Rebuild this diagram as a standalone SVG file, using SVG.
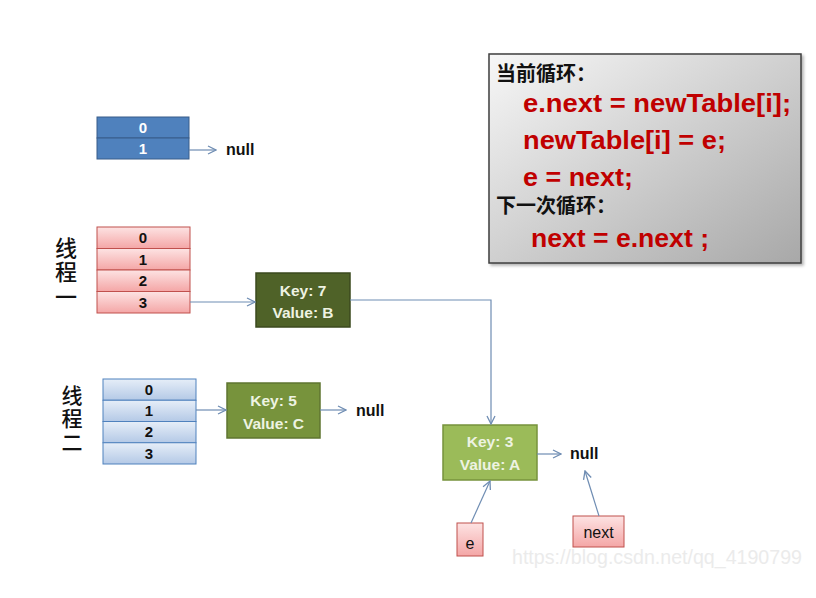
<svg xmlns="http://www.w3.org/2000/svg" width="816" height="598" viewBox="0 0 816 598">
<defs>
<linearGradient id="gPink" x1="0" y1="0" x2="0" y2="1"><stop offset="0" stop-color="#fde3e3"/><stop offset="1" stop-color="#f4a6a6"/></linearGradient>
<linearGradient id="gBlue" x1="0" y1="0" x2="0" y2="1"><stop offset="0" stop-color="#e6eef8"/><stop offset="1" stop-color="#b4c9e6"/></linearGradient>
<linearGradient id="gGray" x1="0" y1="0" x2="1" y2="1"><stop offset="0" stop-color="#f7f7f7"/><stop offset="1" stop-color="#a8a8a8"/></linearGradient>
<marker id="arr" viewBox="0 0 10 10" refX="9" refY="5" markerWidth="10" markerHeight="10" markerUnits="userSpaceOnUse" orient="auto">
<path d="M1,1 L9,5 L1,9" fill="none" stroke="#6f8db3" stroke-width="1.3"/>
</marker>
<filter id="sh" x="-5%" y="-5%" width="115%" height="115%"><feDropShadow dx="2" dy="2" stdDeviation="1.5" flood-color="#000" flood-opacity="0.3"/></filter>
</defs>
<style>
.num{font-family:"Liberation Sans",Arial,sans-serif;font-weight:bold;font-size:15px;text-anchor:middle}
.null{font-family:"Liberation Sans",Arial,sans-serif;font-weight:bold;font-size:16px;fill:#111}
.kv{font-family:"Liberation Sans",Arial,sans-serif;font-weight:bold;font-size:15.5px;text-anchor:middle}
.cjk{font-family:"Liberation Sans","Noto Sans CJK SC",sans-serif;font-weight:bold;fill:#111}
.code{font-family:"Liberation Sans",Arial,sans-serif;font-weight:bold;font-size:26px;fill:#c00000}
.conn{fill:none;stroke:#6f8db3;stroke-width:1.2;marker-end:url(#arr)}
.pink{fill:url(#gPink);stroke:#c0504d;stroke-width:1}
.lblue{fill:url(#gBlue);stroke:#4f81bd;stroke-width:1}
</style>
<rect x="0" y="0" width="816" height="598" fill="#ffffff"/>

<g id="table-top">
<rect x="97" y="117" width="92" height="21" fill="#4f81bd" stroke="#385d8a"/>
<rect x="97" y="138" width="92" height="21" fill="#4f81bd" stroke="#385d8a"/>
<text class="num" x="143" y="133" fill="#ffffff">0</text>
<text class="num" x="143" y="154" fill="#ffffff">1</text>
</g>
<g id="null-top"><text class="null" x="226" y="155">null</text></g>

<g id="label-thread1" class="cjk" font-size="22" text-anchor="middle">
<text x="66" y="256" font-weight="500">线</text><text x="66" y="280" font-weight="500">程</text><text x="66" y="305" font-weight="500">一</text>
</g>
<g id="table-thread1">
<rect class="pink" x="97" y="227" width="93" height="21.5"/>
<rect class="pink" x="97" y="248.5" width="93" height="21.5"/>
<rect class="pink" x="97" y="270" width="93" height="21.5"/>
<rect class="pink" x="97" y="291.5" width="93" height="21.5"/>
<text class="num" x="143" y="243" fill="#111">0</text>
<text class="num" x="143" y="264.5" fill="#111">1</text>
<text class="num" x="143" y="286" fill="#111">2</text>
<text class="num" x="143" y="307.5" fill="#111">3</text>
</g>
<g id="node-key7">
<rect x="256" y="273" width="94" height="54" fill="#4f6228" stroke="#3b4a1e" stroke-width="1.5"/>
<text class="kv" x="303" y="296" fill="#eef3e2">Key: 7</text>
<text class="kv" x="303" y="318" fill="#eef3e2">Value: B</text>
</g>

<g id="label-thread2" class="cjk" font-size="21" text-anchor="middle">
<text x="72" y="403" font-weight="500">线</text><text x="72" y="426" font-weight="500">程</text><text x="72" y="450" font-weight="500">二</text>
</g>
<g id="table-thread2">
<rect class="lblue" x="103" y="379" width="93" height="21.25"/>
<rect class="lblue" x="103" y="400.25" width="93" height="21.25"/>
<rect class="lblue" x="103" y="421.5" width="93" height="21.25"/>
<rect class="lblue" x="103" y="442.75" width="93" height="21.25"/>
<text class="num" x="149" y="395" fill="#111">0</text>
<text class="num" x="149" y="416" fill="#111">1</text>
<text class="num" x="149" y="437" fill="#111">2</text>
<text class="num" x="149" y="458.5" fill="#111">3</text>
</g>
<g id="node-key5">
<rect x="227" y="383" width="93" height="55" fill="#77933c" stroke="#5f7530" stroke-width="1.5"/>
<text class="kv" x="273.5" y="406" fill="#eef3e2">Key: 5</text>
<text class="kv" x="273.5" y="429" fill="#eef3e2">Value: C</text>
</g>
<g id="null-key5"><text class="null" x="356" y="416">null</text></g>

<g id="node-key3">
<rect x="443" y="425" width="94" height="55" fill="#9bbb59" stroke="#77933c" stroke-width="1.5"/>
<text class="kv" x="490" y="447" fill="#eef3e2">Key: 3</text>
<text class="kv" x="490" y="470" fill="#eef3e2">Value: A</text>
</g>
<g id="null-key3"><text class="null" x="570" y="459">null</text></g>

<g id="ptr-e">
<rect class="pink" x="457" y="523" width="26" height="33"/>
<text x="470" y="549" text-anchor="middle" font-family="Liberation Sans,Arial,sans-serif" font-size="16" fill="#111">e</text>
</g>
<g id="ptr-next">
<rect class="pink" x="573" y="516" width="51" height="31"/>
<text x="598.5" y="538" text-anchor="middle" font-family="Liberation Sans,Arial,sans-serif" font-size="16" fill="#111">next</text>
</g>

<g id="code-box">
<rect x="489" y="54" width="312" height="209" fill="url(#gGray)" stroke="#3f3f3f" stroke-width="1.5" filter="url(#sh)"/>
<text class="cjk" x="496" y="81" font-size="20">当前循环：</text>
<text class="code" x="523" y="112" textLength="268" lengthAdjust="spacingAndGlyphs">e.next = newTable[i];</text>
<text class="code" x="523" y="149" textLength="203" lengthAdjust="spacingAndGlyphs">newTable[i] = e;</text>
<text class="code" x="523" y="186" textLength="110" lengthAdjust="spacingAndGlyphs">e = next;</text>
<text class="cjk" x="496" y="213" font-size="20">下一次循环：</text>
<text class="code" x="531" y="247" textLength="178" lengthAdjust="spacingAndGlyphs">next = e.next ;</text>
</g>

<g id="connectors">
<line class="conn" x1="189" y1="150" x2="216" y2="150"/>
<line class="conn" x1="190" y1="302" x2="255" y2="302"/>
<polyline class="conn" points="350,300 491,300 491,424"/>
<line class="conn" x1="196" y1="410" x2="226" y2="410"/>
<line class="conn" x1="320" y1="410" x2="346" y2="410"/>
<line class="conn" x1="537" y1="454" x2="561" y2="454"/>
<line class="conn" x1="471" y1="523" x2="490" y2="481"/>
<line class="conn" x1="599" y1="516" x2="585" y2="471"/>
</g>

<text x="512" y="564" font-family="Liberation Sans,Arial,sans-serif" font-size="20" fill="#ebebeb" textLength="290" lengthAdjust="spacingAndGlyphs">https://blog.csdn.net/qq_4190799</text>
</svg>
